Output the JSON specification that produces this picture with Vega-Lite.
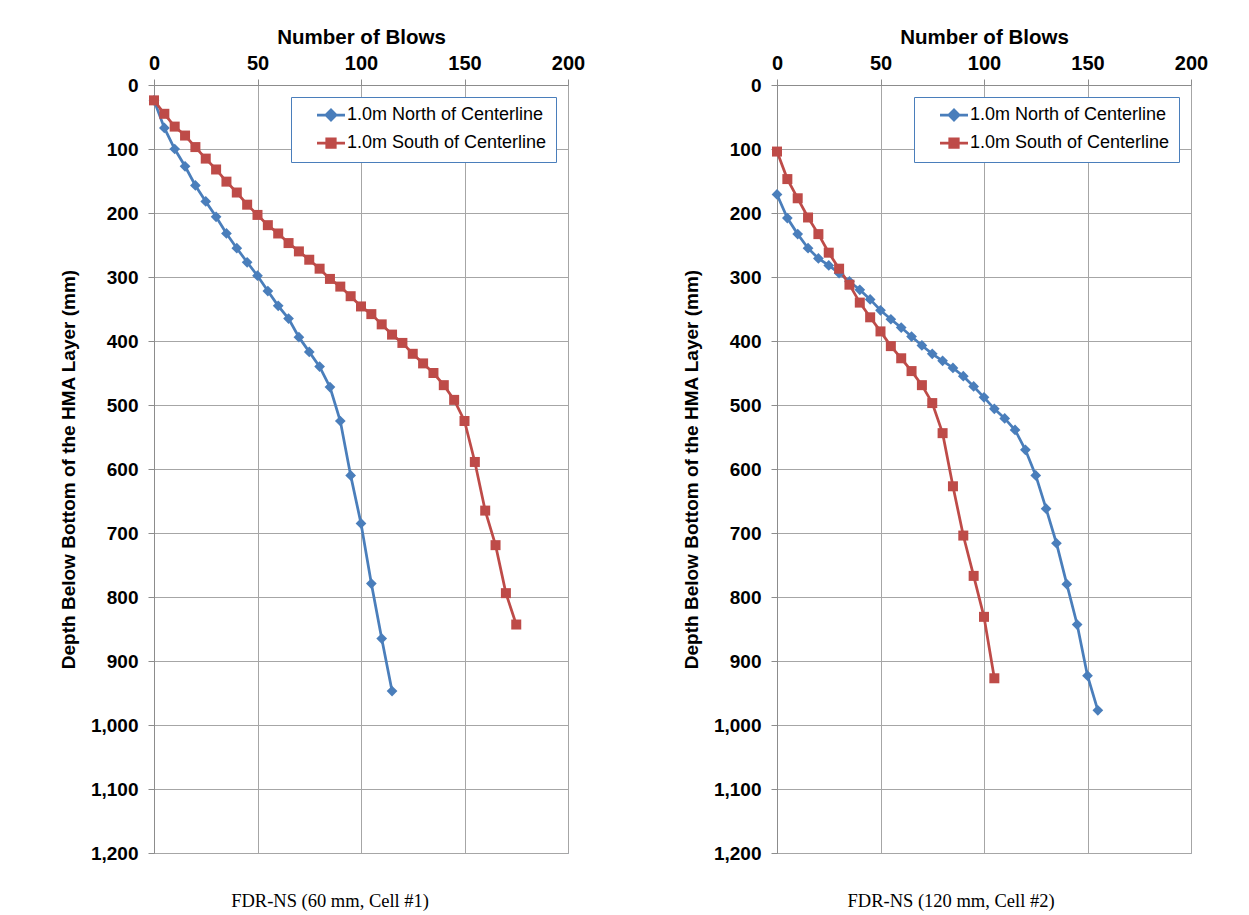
{
  "$schema": "https://vega.github.io/schema/vega-lite/v6.json",
  "padding": {"left": 58, "top": 26, "right": 5, "bottom": 5},
  "background": "white",
  "datasets": {
    "cell1": [
      {"series": "1.0m North of Centerline", "blows": 0, "depth": 24},
      {"series": "1.0m North of Centerline", "blows": 5, "depth": 67},
      {"series": "1.0m North of Centerline", "blows": 10, "depth": 100},
      {"series": "1.0m North of Centerline", "blows": 15, "depth": 127},
      {"series": "1.0m North of Centerline", "blows": 20, "depth": 157},
      {"series": "1.0m North of Centerline", "blows": 25, "depth": 182},
      {"series": "1.0m North of Centerline", "blows": 30, "depth": 206},
      {"series": "1.0m North of Centerline", "blows": 35, "depth": 232},
      {"series": "1.0m North of Centerline", "blows": 40, "depth": 255},
      {"series": "1.0m North of Centerline", "blows": 45, "depth": 277},
      {"series": "1.0m North of Centerline", "blows": 50, "depth": 298},
      {"series": "1.0m North of Centerline", "blows": 55, "depth": 322},
      {"series": "1.0m North of Centerline", "blows": 60, "depth": 345},
      {"series": "1.0m North of Centerline", "blows": 65, "depth": 365},
      {"series": "1.0m North of Centerline", "blows": 70, "depth": 394},
      {"series": "1.0m North of Centerline", "blows": 75, "depth": 417},
      {"series": "1.0m North of Centerline", "blows": 80, "depth": 440},
      {"series": "1.0m North of Centerline", "blows": 85, "depth": 472},
      {"series": "1.0m North of Centerline", "blows": 90, "depth": 525},
      {"series": "1.0m North of Centerline", "blows": 95, "depth": 610},
      {"series": "1.0m North of Centerline", "blows": 100, "depth": 685},
      {"series": "1.0m North of Centerline", "blows": 105, "depth": 779},
      {"series": "1.0m North of Centerline", "blows": 110, "depth": 865},
      {"series": "1.0m North of Centerline", "blows": 115, "depth": 947},
      {"series": "1.0m South of Centerline", "blows": 0, "depth": 24},
      {"series": "1.0m South of Centerline", "blows": 5, "depth": 45},
      {"series": "1.0m South of Centerline", "blows": 10, "depth": 65},
      {"series": "1.0m South of Centerline", "blows": 15, "depth": 79},
      {"series": "1.0m South of Centerline", "blows": 20, "depth": 97},
      {"series": "1.0m South of Centerline", "blows": 25, "depth": 115},
      {"series": "1.0m South of Centerline", "blows": 30, "depth": 132},
      {"series": "1.0m South of Centerline", "blows": 35, "depth": 151},
      {"series": "1.0m South of Centerline", "blows": 40, "depth": 168},
      {"series": "1.0m South of Centerline", "blows": 45, "depth": 187},
      {"series": "1.0m South of Centerline", "blows": 50, "depth": 203},
      {"series": "1.0m South of Centerline", "blows": 55, "depth": 219},
      {"series": "1.0m South of Centerline", "blows": 60, "depth": 232},
      {"series": "1.0m South of Centerline", "blows": 65, "depth": 247},
      {"series": "1.0m South of Centerline", "blows": 70, "depth": 260},
      {"series": "1.0m South of Centerline", "blows": 75, "depth": 273},
      {"series": "1.0m South of Centerline", "blows": 80, "depth": 287},
      {"series": "1.0m South of Centerline", "blows": 85, "depth": 303},
      {"series": "1.0m South of Centerline", "blows": 90, "depth": 315},
      {"series": "1.0m South of Centerline", "blows": 95, "depth": 330},
      {"series": "1.0m South of Centerline", "blows": 100, "depth": 346},
      {"series": "1.0m South of Centerline", "blows": 105, "depth": 358},
      {"series": "1.0m South of Centerline", "blows": 110, "depth": 374},
      {"series": "1.0m South of Centerline", "blows": 115, "depth": 390},
      {"series": "1.0m South of Centerline", "blows": 120, "depth": 403},
      {"series": "1.0m South of Centerline", "blows": 125, "depth": 420},
      {"series": "1.0m South of Centerline", "blows": 130, "depth": 435},
      {"series": "1.0m South of Centerline", "blows": 135, "depth": 450},
      {"series": "1.0m South of Centerline", "blows": 140, "depth": 469},
      {"series": "1.0m South of Centerline", "blows": 145, "depth": 492},
      {"series": "1.0m South of Centerline", "blows": 150, "depth": 525},
      {"series": "1.0m South of Centerline", "blows": 155, "depth": 589},
      {"series": "1.0m South of Centerline", "blows": 160, "depth": 665},
      {"series": "1.0m South of Centerline", "blows": 165, "depth": 719},
      {"series": "1.0m South of Centerline", "blows": 170, "depth": 794},
      {"series": "1.0m South of Centerline", "blows": 175, "depth": 843}
    ],
    "cell2": [
      {"series": "1.0m North of Centerline", "blows": 0, "depth": 171},
      {"series": "1.0m North of Centerline", "blows": 5, "depth": 208},
      {"series": "1.0m North of Centerline", "blows": 10, "depth": 233},
      {"series": "1.0m North of Centerline", "blows": 15, "depth": 255},
      {"series": "1.0m North of Centerline", "blows": 20, "depth": 271},
      {"series": "1.0m North of Centerline", "blows": 25, "depth": 282},
      {"series": "1.0m North of Centerline", "blows": 30, "depth": 294},
      {"series": "1.0m North of Centerline", "blows": 35, "depth": 307},
      {"series": "1.0m North of Centerline", "blows": 40, "depth": 320},
      {"series": "1.0m North of Centerline", "blows": 45, "depth": 335},
      {"series": "1.0m North of Centerline", "blows": 50, "depth": 352},
      {"series": "1.0m North of Centerline", "blows": 55, "depth": 366},
      {"series": "1.0m North of Centerline", "blows": 60, "depth": 379},
      {"series": "1.0m North of Centerline", "blows": 65, "depth": 393},
      {"series": "1.0m North of Centerline", "blows": 70, "depth": 407},
      {"series": "1.0m North of Centerline", "blows": 75, "depth": 420},
      {"series": "1.0m North of Centerline", "blows": 80, "depth": 431},
      {"series": "1.0m North of Centerline", "blows": 85, "depth": 442},
      {"series": "1.0m North of Centerline", "blows": 90, "depth": 455},
      {"series": "1.0m North of Centerline", "blows": 95, "depth": 471},
      {"series": "1.0m North of Centerline", "blows": 100, "depth": 488},
      {"series": "1.0m North of Centerline", "blows": 105, "depth": 506},
      {"series": "1.0m North of Centerline", "blows": 110, "depth": 521},
      {"series": "1.0m North of Centerline", "blows": 115, "depth": 539},
      {"series": "1.0m North of Centerline", "blows": 120, "depth": 570},
      {"series": "1.0m North of Centerline", "blows": 125, "depth": 610},
      {"series": "1.0m North of Centerline", "blows": 130, "depth": 662},
      {"series": "1.0m North of Centerline", "blows": 135, "depth": 716},
      {"series": "1.0m North of Centerline", "blows": 140, "depth": 780},
      {"series": "1.0m North of Centerline", "blows": 145, "depth": 843},
      {"series": "1.0m North of Centerline", "blows": 150, "depth": 923},
      {"series": "1.0m North of Centerline", "blows": 155, "depth": 977},
      {"series": "1.0m South of Centerline", "blows": 0, "depth": 104},
      {"series": "1.0m South of Centerline", "blows": 5, "depth": 147},
      {"series": "1.0m South of Centerline", "blows": 10, "depth": 177},
      {"series": "1.0m South of Centerline", "blows": 15, "depth": 207},
      {"series": "1.0m South of Centerline", "blows": 20, "depth": 233},
      {"series": "1.0m South of Centerline", "blows": 25, "depth": 262},
      {"series": "1.0m South of Centerline", "blows": 30, "depth": 287},
      {"series": "1.0m South of Centerline", "blows": 35, "depth": 312},
      {"series": "1.0m South of Centerline", "blows": 40, "depth": 340},
      {"series": "1.0m South of Centerline", "blows": 45, "depth": 363},
      {"series": "1.0m South of Centerline", "blows": 50, "depth": 385},
      {"series": "1.0m South of Centerline", "blows": 55, "depth": 408},
      {"series": "1.0m South of Centerline", "blows": 60, "depth": 427},
      {"series": "1.0m South of Centerline", "blows": 65, "depth": 447},
      {"series": "1.0m South of Centerline", "blows": 70, "depth": 469},
      {"series": "1.0m South of Centerline", "blows": 75, "depth": 497},
      {"series": "1.0m South of Centerline", "blows": 80, "depth": 544},
      {"series": "1.0m South of Centerline", "blows": 85, "depth": 627},
      {"series": "1.0m South of Centerline", "blows": 90, "depth": 704},
      {"series": "1.0m South of Centerline", "blows": 95, "depth": 767},
      {"series": "1.0m South of Centerline", "blows": 100, "depth": 831},
      {"series": "1.0m South of Centerline", "blows": 105, "depth": 927}
    ]
  },
  "spacing": 95,
  "hconcat": [
    {
      "width": 414,
      "height": 768,
      "data": {"name": "cell1"},
      "title": {"text": "FDR-NS (60 mm, Cell #1)", "orient": "bottom", "anchor": "middle", "frame": "bounds", "dx": 8, "font": "Liberation Serif", "fontSize": 18.5, "fontWeight": "normal", "color": "black", "offset": 29},
      "encoding": {
        "x": {"field": "blows", "type": "quantitative", "title": "Number of Blows", "scale": {"domain": [0, 200], "nice": false}, "axis": {"orient": "top", "values": [0, 50, 100, 150, 200], "labelPadding": 6, "titlePadding": 6, "titleFontSize": 20.5, "labelFontSize": 20}},
        "y": {"field": "depth", "type": "quantitative", "title": "Depth Below Bottom of the HMA Layer (mm)", "scale": {"domain": [0, 1200], "reverse": true, "nice": false}, "axis": {"values": [0, 100, 200, 300, 400, 500, 600, 700, 800, 900, 1000, 1100, 1200], "format": ",d"}},
        "color": {"field": "series", "type": "nominal", "scale": {"domain": ["1.0m North of Centerline", "1.0m South of Centerline"], "range": ["#4A7EBB", "#BE4B48"]},
          "legend": {"title": null, "orient": "top-right", "offset": 12, "symbolSize": 100, "symbolOffset": 22, "labelOffset": 7, "labelExpr": "datum.label + '    '",
            "encode": {"symbols": {"update": {
              "shape": {"signal": "indexof(datum.value, 'North') >= 0 ? 'M-2.8,0L2.8,0M-1,0L0,-1L1,0L0,1Z' : 'M-2.8,0L2.8,0M-0.85,-0.85L0.85,-0.85L0.85,0.85L-0.85,0.85Z'"},
              "fill": {"signal": "indexof(datum.value, 'North') >= 0 ? '#4A7EBB' : '#BE4B48'"},
              "stroke": {"signal": "indexof(datum.value, 'North') >= 0 ? '#4A7EBB' : '#BE4B48'"},
              "strokeWidth": {"value": 2.75},
              "opacity": {"value": 1},
              "fillOpacity": {"value": 1},
              "strokeOpacity": {"value": 1}
            }}}}},
        "order": {"field": "depth", "type": "quantitative"}
      },
      "layer": [
        {"mark": {"type": "line", "strokeWidth": 2.75}},
        {"transform": [{"filter": "indexof(datum.series, 'North') >= 0"}], "mark": {"type": "point", "shape": "diamond", "filled": true, "opacity": 1, "size": 115}},
        {"transform": [{"filter": "indexof(datum.series, 'South') >= 0"}], "mark": {"type": "point", "shape": "square", "filled": true, "opacity": 1, "size": 100}}
      ]
    },
    {
      "width": 414,
      "height": 768,
      "data": {"name": "cell2"},
      "title": {"text": "FDR-NS (120 mm, Cell #2)", "orient": "bottom", "anchor": "middle", "frame": "bounds", "dx": 6, "font": "Liberation Serif", "fontSize": 18.5, "fontWeight": "normal", "color": "black", "offset": 29},
      "encoding": {
        "x": {"field": "blows", "type": "quantitative", "title": "Number of Blows", "scale": {"domain": [0, 200], "nice": false}, "axis": {"orient": "top", "values": [0, 50, 100, 150, 200], "labelPadding": 6, "titlePadding": 6, "titleFontSize": 20.5, "labelFontSize": 20}},
        "y": {"field": "depth", "type": "quantitative", "title": "Depth Below Bottom of the HMA Layer (mm)", "scale": {"domain": [0, 1200], "reverse": true, "nice": false}, "axis": {"values": [0, 100, 200, 300, 400, 500, 600, 700, 800, 900, 1000, 1100, 1200], "format": ",d"}},
        "color": {"field": "series", "type": "nominal", "scale": {"domain": ["1.0m North of Centerline", "1.0m South of Centerline"], "range": ["#4A7EBB", "#BE4B48"]},
          "legend": {"title": null, "orient": "top-right", "offset": 12, "symbolSize": 100, "symbolOffset": 22, "labelOffset": 7, "labelExpr": "datum.label + '    '",
            "encode": {"symbols": {"update": {
              "shape": {"signal": "indexof(datum.value, 'North') >= 0 ? 'M-2.8,0L2.8,0M-1,0L0,-1L1,0L0,1Z' : 'M-2.8,0L2.8,0M-0.85,-0.85L0.85,-0.85L0.85,0.85L-0.85,0.85Z'"},
              "fill": {"signal": "indexof(datum.value, 'North') >= 0 ? '#4A7EBB' : '#BE4B48'"},
              "stroke": {"signal": "indexof(datum.value, 'North') >= 0 ? '#4A7EBB' : '#BE4B48'"},
              "strokeWidth": {"value": 2.75},
              "opacity": {"value": 1},
              "fillOpacity": {"value": 1},
              "strokeOpacity": {"value": 1}
            }}}}},
        "order": {"field": "depth", "type": "quantitative"}
      },
      "layer": [
        {"mark": {"type": "line", "strokeWidth": 2.75}},
        {"transform": [{"filter": "indexof(datum.series, 'North') >= 0"}], "mark": {"type": "point", "shape": "diamond", "filled": true, "opacity": 1, "size": 115}},
        {"transform": [{"filter": "indexof(datum.series, 'South') >= 0"}], "mark": {"type": "point", "shape": "square", "filled": true, "opacity": 1, "size": 100}}
      ]
    }
  ],
  "resolve": {
    "scale": {"color": "independent"},
    "legend": {"color": "independent"}
  },
  "config": {
    "font": "Liberation Sans",
    "view": {"stroke": "#7F9FCF", "strokeWidth": 1},
    "axis": {
      "labelFont": "Liberation Sans",
      "labelFontSize": 19,
      "labelFontWeight": "bold",
      "labelColor": "black",
      "labelFlush": false,
      "labelOverlap": false,
      "titleFont": "Liberation Sans",
      "titleFontSize": 19,
      "titleFontWeight": "bold",
      "titleColor": "black",
      "gridColor": "#A6A6A6",
      "gridWidth": 1,
      "gridOpacity": 1,
      "domainColor": "#8C8C8C",
      "tickColor": "#8C8C8C",
      "tickSize": 6,
      "labelPadding": 10,
      "titlePadding": 12
    },
    "legend": {
      "labelFont": "Liberation Sans",
      "labelFontSize": 18,
      "labelColor": "black",
      "strokeColor": "#4A7EBB",
      "fillColor": "white",
      "padding": 9,
      "rowPadding": 7,
      "labelLimit": 400
    },
    "title": {"font": "Liberation Serif"}
  }
}
